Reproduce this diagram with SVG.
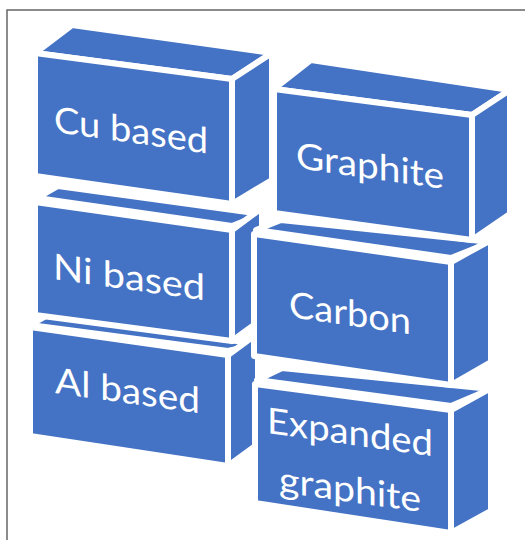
<svg xmlns="http://www.w3.org/2000/svg" width="525" height="540" viewBox="0 0 525 540">
  <style>
    .face { fill: #4472C4; stroke: #FFFFFF; stroke-width: 6; stroke-linejoin: round; }
    .label { fill: #FFFFFF; font-family: "Lato", "Liberation Sans", sans-serif; font-size: 36px; }
    .frame { fill: none; stroke: #666666; stroke-width: 1.5; }
  </style>

  <!-- outer frame (top and left edges) -->
  <polyline class="frame" points="7,540 7,10 525,10"/>

  <!-- left column, drawn bottom-up so each upper box covers the one below -->
  <g id="al-based">
    <polygon class="face" points="30,325 48,315 258,344 228,351"/>
    <polygon class="face" points="228,355 258,333 258,444 228,466"/>
    <polygon class="face" points="30,327 228,355 228,466 30,436"/>
    <text class="label" transform="translate(55,393) skewY(8)" textLength="145" lengthAdjust="spacingAndGlyphs">Al based</text>
  </g>

  <g id="ni-based">
    <polygon class="face" points="37,198 58,186 262,214 232,226"/>
    <polygon class="face" points="232,230 262,208 262,319 232,341"/>
    <polygon class="face" points="35,202 232,230 232,341 35,315"/>
    <text class="label" transform="translate(53,279) skewY(8)" textLength="152" lengthAdjust="spacingAndGlyphs">Ni based</text>
  </g>

  <g id="cu-based">
    <polygon class="face" points="35,53 72,25 272,53 232,79"/>
    <polygon class="face" points="232,79 272,53 272,180 232,204"/>
    <polygon class="face" points="35,53 232,79 232,204 35,176"/>
    <text class="label" transform="translate(54,132) skewY(8)" textLength="154" lengthAdjust="spacingAndGlyphs">Cu based</text>
  </g>

  <!-- right column -->
  <g id="expanded-graphite">
    <polygon class="face" points="257,380 282,368 491,389 451,406"/>
    <polygon class="face" points="451,410 491,388 491,511 451,533"/>
    <polygon class="face" points="255,384 451,410 451,533 255,503"/>
    <text class="label" transform="translate(267,433) skewY(8)" textLength="166" lengthAdjust="spacingAndGlyphs">Expanded</text>
    <text class="label" transform="translate(279,492) skewY(8)" textLength="142" lengthAdjust="spacingAndGlyphs">graphite</text>
  </g>

  <g id="carbon">
    <polygon class="face" points="256,230 281,220 491,242 451,258"/>
    <polygon class="face" points="451,262 491,240 491,362 451,385"/>
    <polygon class="face" points="254,234 451,262 451,385 254,356"/>
    <text class="label" transform="translate(289,317) skewY(8)" textLength="122" lengthAdjust="spacingAndGlyphs">Carbon</text>
  </g>

  <g id="graphite">
    <polygon class="face" points="274,89 311,60 510,90 472,115"/>
    <polygon class="face" points="472,115 510,90 510,214 472,240"/>
    <polygon class="face" points="274,89 472,115 472,240 274,213"/>
    <text class="label" transform="translate(296,168) skewY(8)" textLength="148" lengthAdjust="spacingAndGlyphs">Graphite</text>
  </g>
</svg>
